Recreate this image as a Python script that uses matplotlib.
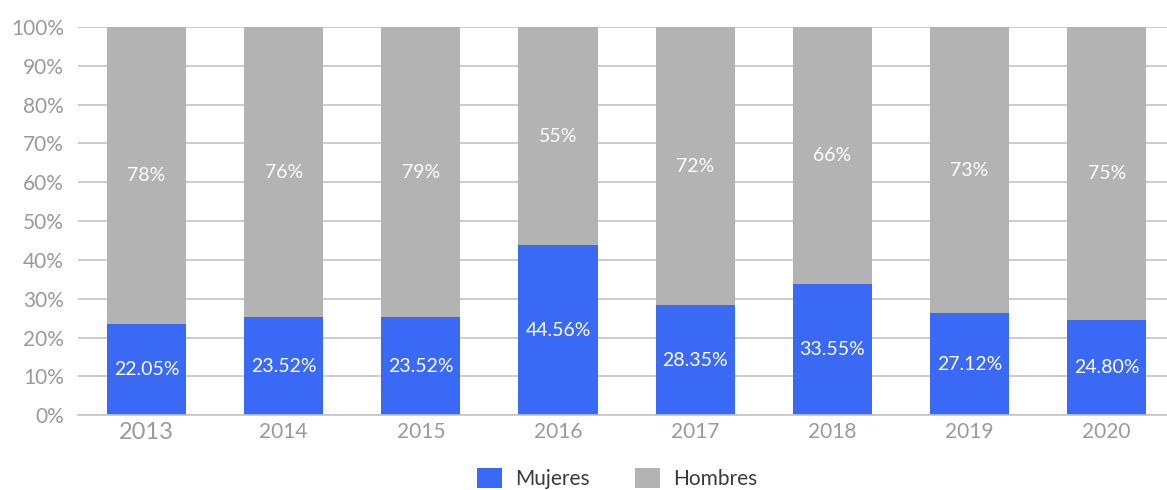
import numpy as np
import matplotlib.pyplot as plt

plt.rcParams['font.family'] = ['Lato', 'DejaVu Sans']

# Datos
anios = ['2013', '2014', '2015', '2016', '2017', '2018', '2019', '2020']
mujeres = [23.5, 25.3, 25.3, 43.8, 28.4, 33.8, 26.3, 24.5]
hombres = [100 - m for m in mujeres]
etiquetas_mujeres = ['22.05%', '23.52%', '23.52%', '44.56%', '28.35%', '33.55%', '27.12%', '24.80%']
etiquetas_hombres = ['78%', '76%', '79%', '55%', '72%', '66%', '73%', '75%']

azul = '#3A6AF5'
gris = '#B3B3B3'
texto = '#9A9A9A'

fig = plt.figure(figsize=(11.67, 4.9), dpi=100)
ax = fig.add_axes([78 / 1167, 0.1524, 1 - 78 / 1167, 0.7925])

x = np.arange(len(anios))
b1 = ax.bar(x, mujeres, width=0.577, color=azul, label='Mujeres', zorder=2)
b2 = ax.bar(x, hombres, width=0.577, bottom=mujeres, color=gris, label='Hombres', zorder=2)
ax.bar_label(b1, labels=etiquetas_mujeres, label_type='center', color='white', fontsize=14)
ax.bar_label(b2, labels=etiquetas_hombres, label_type='center', color='white', fontsize=14)

ax.set_xlim(-0.5, 7.44)
ax.set_ylim(0, 100)
ax.set_yticks(np.arange(0, 101, 10))
ax.set_yticklabels([f'{v}%' for v in range(0, 101, 10)])
ax.set_xticks(x)
ax.set_xticklabels(anios)
ax.get_xticklabels()[0].set_fontsize(17)
for lbl in ax.get_xticklabels()[1:]:
    lbl.set_fontsize(15)
ax.tick_params(axis='y', length=0, labelsize=15, labelcolor=texto, pad=10)
ax.tick_params(axis='x', length=0, labelcolor=texto, pad=5)

ax.grid(axis='y', color='#C4C4C4', linewidth=1.2, zorder=0)
for s in ['top', 'right', 'left']:
    ax.spines[s].set_visible(False)
ax.spines['bottom'].set_color('#C4C4C4')
ax.spines['bottom'].set_linewidth(1.2)

fig.legend(handles=[b1, b2], loc='lower center', bbox_to_anchor=(0.529, -0.036), ncol=2,
           frameon=False, fontsize=15, handlelength=1.2, handleheight=1.1,
           handletextpad=0.6, columnspacing=2.2, labelcolor='#3A3A3A')

fig.savefig('out.png', dpi=100)
